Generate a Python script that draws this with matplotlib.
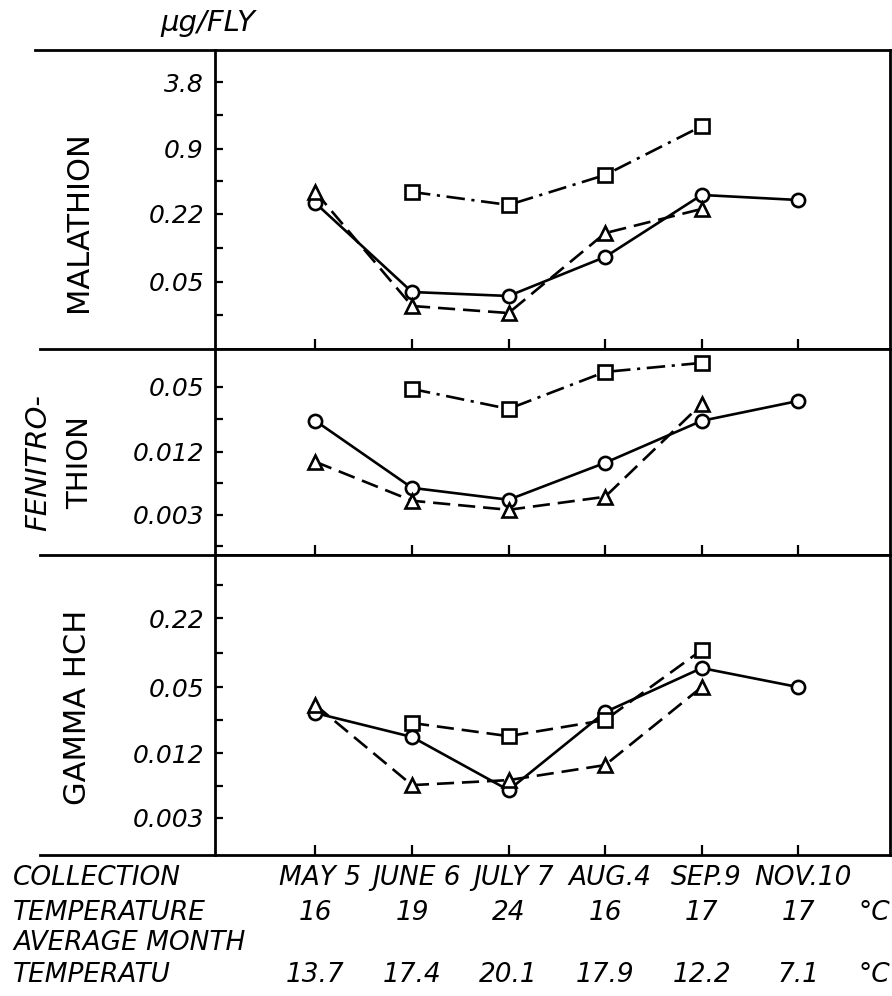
import numpy as np
import matplotlib
matplotlib.use('Agg')
from matplotlib import pyplot as plt
from matplotlib.lines import Line2D
from matplotlib.ticker import NullFormatter
import matplotlib.transforms as mtransforms

nan = np.nan

# collection dates and field temperatures
collections = ['MAY 5', 'JUNE 6', 'JULY 7', 'AUG.4', 'SEP.9', 'NOV.10']
temperature = ['16', '19', '24', '16', '17', '17']
avg_month_temp = ['13.7', '17.4', '20.1', '17.9', '12.2', '7.1']

# LD50 in ug per fly, three strains per insecticide
mal_circle = [0.276, 0.0402, 0.0369, 0.0859, 0.329, 0.295]
mal_triangle = [0.351, 0.0297, 0.0255, 0.144, 0.243, nan]
mal_square = [nan, 0.351, 0.265, 0.507, 1.46, nan]

fen_circle = [0.0237, 0.00543, 0.00418, 0.00942, 0.0237, 0.0367]
fen_triangle = [0.00962, 0.00409, 0.00335, 0.00446, 0.0344, nan]
fen_square = [nan, 0.0478, 0.0308, 0.0695, 0.0847, nan]

hch_circle = [0.0286, 0.0171, 0.00545, 0.0292, 0.0753, 0.05]
hch_triangle = [0.0340, 0.00607, 0.00676, 0.00934, 0.05, nan]
hch_square = [nan, 0.0231, 0.0174, 0.0246, 0.111, nan]

# y tick labels per panel
mal_ticks = [3.8, 0.9, 0.22, 0.05]
mal_ticklabels = ['3.8', '0.9', '0.22', '0.05']
fen_ticks = [0.05, 0.012, 0.003]
fen_ticklabels = ['0.05', '0.012', '0.003']
hch_ticks = [0.22, 0.05, 0.012, 0.003]
hch_ticklabels = ['0.22', '0.05', '0.012', '0.003']

plt.rcParams['font.family'] = ['DejaVu Sans']
x = np.arange(len(collections))

fig = plt.figure(figsize=(8.92, 9.96), dpi=100)

W, H = 892.0, 996.0
left_px, right_px = 215, 890
panels_px = [(50, 349), (349, 555), (555, 855)]

dash = (0, (6.5, 3))
dashdot = (0, (7, 2.5, 1.2, 2.5))

panel_specs = [
    dict(circle=mal_circle, triangle=mal_triangle, square=mal_square,
         sq_ls=dashdot, ylim=(0.0117, 7.6), ticks=mal_ticks,
         labels=mal_ticklabels, minor=[1.85, 0.445, 0.105, 0.0245]),
    dict(circle=fen_circle, triangle=fen_triangle, square=fen_square,
         sq_ls=dashdot, ylim=(0.00124, 0.115), ticks=fen_ticks,
         labels=fen_ticklabels, minor=[0.0245, 0.006, 0.0015]),
    dict(circle=hch_circle, triangle=hch_triangle, square=hch_square,
         sq_ls=dash, ylim=(0.00135, 0.857), ticks=hch_ticks,
         labels=hch_ticklabels, minor=[0.45, 0.105, 0.0245, 0.006]),
]

axes = []
for (top, bot), spec in zip(panels_px, panel_specs):
    ax = fig.add_axes([left_px / W, 1 - bot / H, (right_px - left_px) / W, (bot - top) / H])
    axes.append(ax)
    mk = dict(color='black', lw=1.9, ms=9.5, mew=1.9, mfc='white', mec='black')
    ax.plot(x, spec['circle'], linestyle='-', marker='o', **mk)
    ax.plot(x, spec['triangle'], linestyle=dash, marker='^', **mk)
    ax.plot(x, spec['square'], linestyle=spec['sq_ls'], marker='s', **mk)

    ax.set_yscale('log')
    ax.set_ylim(*spec['ylim'])
    ax.set_xlim(-1.04, 5.95)
    ax.set_yticks(spec['ticks'])
    ax.set_yticklabels(spec['labels'], fontstyle='italic', fontsize=18)
    ax.set_yticks(spec['minor'], minor=True)
    ax.yaxis.set_minor_formatter(NullFormatter())
    ax.set_xticks(x)
    ax.set_xticklabels([])
    ax.tick_params(axis='y', which='both', direction='in', length=6, width=1.6, pad=8)
    ax.tick_params(axis='x', which='both', direction='in', length=7, width=1.6)
    for s in ax.spines.values():
        s.set_linewidth(2)

# horizontal rules running out to the left margin
for ypx, xstart in [(50, 35), (349, 40), (555, 40), (855, 40)]:
    fig.add_artist(Line2D([xstart / W, left_px / W], [1 - ypx / H, 1 - ypx / H],
                          color='black', lw=2, transform=fig.transFigure))

# units and insecticide names
fig.text(160 / W, 1 - 23 / H, 'µg/FLY', fontsize=21, fontstyle='italic', va='center', ha='left')
fig.text(78 / W, 1 - 222 / H, 'MALATHION', fontsize=22, rotation=90, ha='center', va='center')
fig.text(38 / W, 1 - 463 / H, 'FENITRO-', fontsize=21, rotation=90, ha='center', va='center',
         fontstyle='italic')
fig.text(80 / W, 1 - 463 / H, 'THION', fontsize=21, rotation=90, ha='center', va='center')
fig.text(78 / W, 1 - 707 / H, 'GAMMA HCH', fontsize=22, rotation=90, ha='center', va='center')

# table under the panels
trans = mtransforms.blended_transform_factory(axes[2].transData, fig.transFigure)
rows_y = [1 - 878 / H, 1 - 913 / H, 1 - 943 / H, 1 - 975 / H]
txt = dict(fontsize=19, fontstyle='italic', va='center')
fig.text(13 / W, rows_y[0], 'COLLECTION', ha='left', **txt)
fig.text(13 / W, rows_y[1], 'TEMPERATURE', ha='left', **txt)
fig.text(13 / W, rows_y[2], 'AVERAGE MONTH', ha='left', **txt)
fig.text(13 / W, rows_y[3], 'TEMPERATU', ha='left', **txt)
for i in x:
    fig.text(i + 0.05, rows_y[0], collections[i], ha='center', transform=trans, **txt)
    fig.text(i, rows_y[1], temperature[i], ha='center', transform=trans, **txt)
    fig.text(i, rows_y[3], avg_month_temp[i], ha='center', transform=trans, **txt)
fig.text(890 / W, rows_y[1], '°C', ha='right', **txt)
fig.text(890 / W, rows_y[3], '°C', ha='right', **txt)

fig.savefig('out.png', dpi=100)
